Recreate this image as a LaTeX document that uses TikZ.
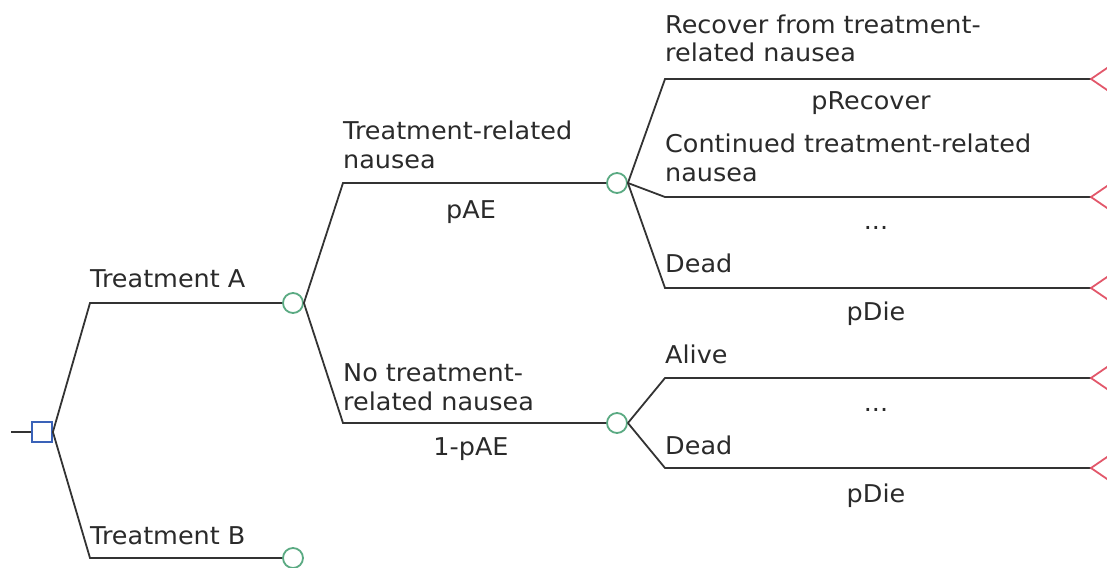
\documentclass[tikz,border=0pt]{standalone}
\usepackage{fontspec}
\setmainfont{DejaVu Sans}[FakeStretch=1.04]
\definecolor{lin}{HTML}{333333}
\definecolor{txt}{HTML}{2A2A2A}
\definecolor{dec}{HTML}{3A62B8}
\definecolor{chc}{HTML}{5AAA82}
\definecolor{trm}{HTML}{E2576A}
\begin{document}
\begin{tikzpicture}[x=1pt,y=-1pt,
  every node/.style={font=\fontsize{24.5}{28.3}\selectfont, text=txt, inner sep=0pt},
  lbl/.style={anchor=base west, align=left},
  prob/.style={anchor=base},
  branch/.style={draw=lin, line width=1.8pt},
  chance/.style={circle, draw=chc, line width=1.8pt, minimum size=20pt, inner sep=0pt},
  decision/.style={rectangle, draw=dec, line width=1.8pt, minimum size=20pt, inner sep=0pt},
  term/.style={draw=trm, line width=1.8pt, line join=miter},
]
\useasboundingbox (0,0) rectangle (1107,567);
\clip (0,0) rectangle (1107,567);

% decision node
\node[decision] (d) at (42,432) {};
\coordinate (s) at (11,432);
\draw[branch] (s) -- (d.west);

% first level
\coordinate (ka) at (90,303);
\coordinate (kb) at (90,558);
\node[chance] (ca) at (293,303) {};
\node[chance] (cb) at (293,558) {};
\draw[branch] (d.east) -- (ka) -- (ca.west);
\draw[branch] (d.east) -- (kb) -- (cb.west);

% second level
\coordinate (k1) at (343,183);
\coordinate (k2) at (343,423);
\node[chance] (c1) at (617,183) {};
\node[chance] (c2) at (617,423) {};
\draw[branch] (ca.east) -- (k1) -- (c1.west);
\draw[branch] (ca.east) -- (k2) -- (c2.west);

% third level
\coordinate (m1) at (665,79);
\coordinate (m2) at (665,197);
\coordinate (m3) at (665,288);
\coordinate (m4) at (665,378);
\coordinate (m5) at (665,468);
\coordinate (t1) at (1091,79);
\coordinate (t2) at (1091,197);
\coordinate (t3) at (1091,288);
\coordinate (t4) at (1091,378);
\coordinate (t5) at (1091,468);
\draw[branch] (c1.east) -- (m1) -- (t1);
\draw[branch] (c1.east) -- (m2) -- (t2);
\draw[branch] (c1.east) -- (m3) -- (t3);
\draw[branch] (c2.east) -- (m4) -- (t4);
\draw[branch] (c2.east) -- (m5) -- (t5);

% terminal markers
\foreach \t in {t1,t2,t3,t4,t5}{
  \draw[term] (\t) -- ++(19,-13) -- ++(0,26) -- cycle;
}

% labels (multi-line labels: base = baseline of last line)
\node[lbl] (la) at (90,287) {Treatment A};
\node[lbl] (lb) at (90,544) {Treatment B};
\node[lbl] (l1) at (343,168) {Treatment-related\\nausea};
\node[prob] (p1) at (471,218) {pAE};
\node[lbl] (l2) at (343,410) {No treatment-\\related nausea};
\node[prob] (p2) at (471,455) {1-pAE};
\node[lbl] (l3) at (665,61.5) {Recover from treatment-\\related nausea};
\node[prob] (p3) at (871,110) {pRecover};
\node[lbl] (l4) at (665,181) {Continued treatment-related\\nausea};
\node[prob] (p4) at (876,229) {...};
\node[lbl] (l5) at (665,272) {Dead};
\node[prob] (p5) at (876,320) {pDie};
\node[lbl] (l6) at (665,363) {Alive};
\node[prob] (p6) at (876,411) {...};
\node[lbl] (l7) at (665,454) {Dead};
\node[prob] (p7) at (876,502) {pDie};
\end{tikzpicture}
\end{document}
